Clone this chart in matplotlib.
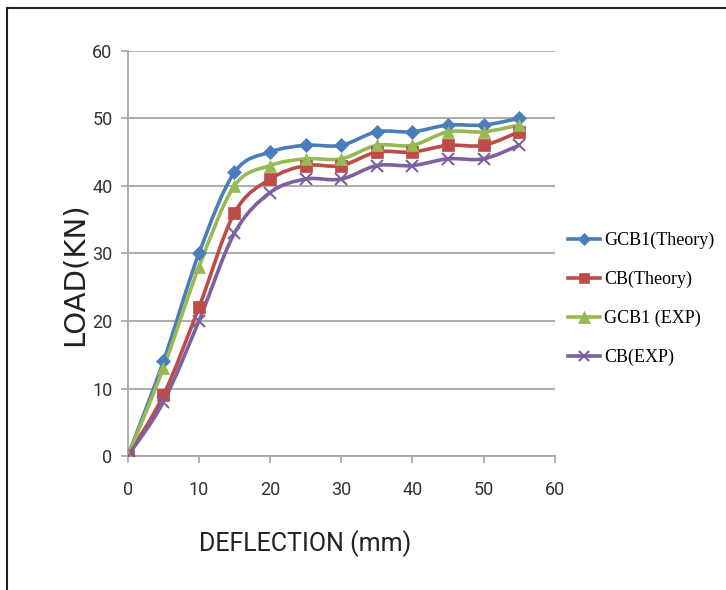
import numpy as np
import matplotlib
matplotlib.use("Agg")
import matplotlib.pyplot as plt
from matplotlib.path import Path
from matplotlib.patches import PathPatch
from matplotlib.lines import Line2D

deflection = [0, 5, 10, 15, 20, 25, 30, 35, 40, 45, 50, 55]
gcb1_theory = [0, 14, 30, 42, 45, 46, 46, 48, 48, 49, 49, 50]
cb_theory = [0, 9, 22, 36, 41, 43, 43, 45, 45, 46, 46, 48]
gcb1_exp = [0, 13, 28, 40, 43, 44, 44, 46, 46, 48, 48, 49]
cb_exp = [0, 8, 20, 33, 39, 41, 41, 43, 43, 44, 44, 46]

series = [
    ("GCB1(Theory)", gcb1_theory, "#4A7EBB", "D", 7),
    ("CB(Theory)", cb_theory, "#BE4B48", "s", 8),
    ("GCB1 (EXP)", gcb1_exp, "#98B954", "^", 9),
    ("CB(EXP)", cb_exp, "#7D60A0", "x", 8),
]

NARROW = ["Roboto", "DejaVu Sans"]

fig = plt.figure(figsize=(7.26, 5.90), dpi=100)
ax = fig.add_axes([0.176, 0.227, 0.588, 0.687])


def smooth_path(x, y, t=0.5 / 3):
    x = np.asarray(x, float)
    y = np.asarray(y, float)
    verts = [(x[0], y[0])]
    codes = [Path.MOVETO]
    n = len(x)
    for i in range(n - 1):
        x0, y0 = (x[i - 1], y[i - 1]) if i > 0 else (x[i], y[i])
        x3, y3 = (x[i + 2], y[i + 2]) if i + 2 < n else (x[i + 1], y[i + 1])
        c1 = (x[i] + (x[i + 1] - x0) * t, y[i] + (y[i + 1] - y0) * t)
        c2 = (x[i + 1] - (x3 - x[i]) * t, y[i + 1] - (y3 - y[i]) * t)
        verts += [c1, c2, (x[i + 1], y[i + 1])]
        codes += [Path.CURVE4] * 3
    return Path(verts, codes)


handles = []
for label, vals, col, mk, ms in series:
    ax.add_patch(PathPatch(smooth_path(deflection, vals), fill=False,
                           edgecolor=col, lw=2.6, zorder=3, capstyle="round"))
    ax.plot(deflection, vals, linestyle="none", marker=mk, color=col,
            markersize=ms, markeredgewidth=1.5 if mk == "x" else 0.5, zorder=4)
    handles.append(Line2D([], [], color=col, lw=2.6, marker=mk, markersize=ms - 1,
                          markeredgewidth=1.5 if mk == "x" else 0.5, label=label))

ax.set_xlim(0, 60)
ax.set_ylim(0, 60)
ax.set_xticks(range(0, 61, 10))
ax.set_yticks(range(0, 61, 10))
ax.grid(axis="y", color="#A6A6A6", lw=1.3)
ax.set_axisbelow(True)
for s in ["top", "right"]:
    ax.spines[s].set_visible(False)
for s in ["left", "bottom"]:
    ax.spines[s].set_color("#A6A6A6")
    ax.spines[s].set_linewidth(1.3)
ax.tick_params(axis="both", colors="#A6A6A6", labelcolor="#333333", labelsize=13,
               length=5, width=1.2, direction="out")
ax.tick_params(axis="x", pad=13)
ax.tick_params(axis="y", pad=6)
for lab in ax.get_xticklabels() + ax.get_yticklabels():
    lab.set_family(NARROW)

fig.text(0.42, 0.079, "DEFLECTION (mm)", fontsize=18, color="#222222",
         ha="center", va="center", family=NARROW)
fig.text(0.103, 0.535, "LOAD(KN)", fontsize=21, color="#222222",
         ha="center", va="center", rotation=90)

fig.legend(handles=handles, loc="upper left", bbox_to_anchor=(0.772, 0.619),
           frameon=False, prop={"family": "Liberation Serif", "size": 13},
           handlelength=1.8, handletextpad=0.2, labelspacing=1.2, borderaxespad=0)

fig.add_artist(Line2D([0.01, 0.01], [0.0, 0.986], transform=fig.transFigure,
                      color="#222222", lw=1.5))
fig.add_artist(Line2D([0.01, 1.0], [0.986, 0.986], transform=fig.transFigure,
                      color="#222222", lw=1.5))

fig.savefig("out.png", dpi=100)
